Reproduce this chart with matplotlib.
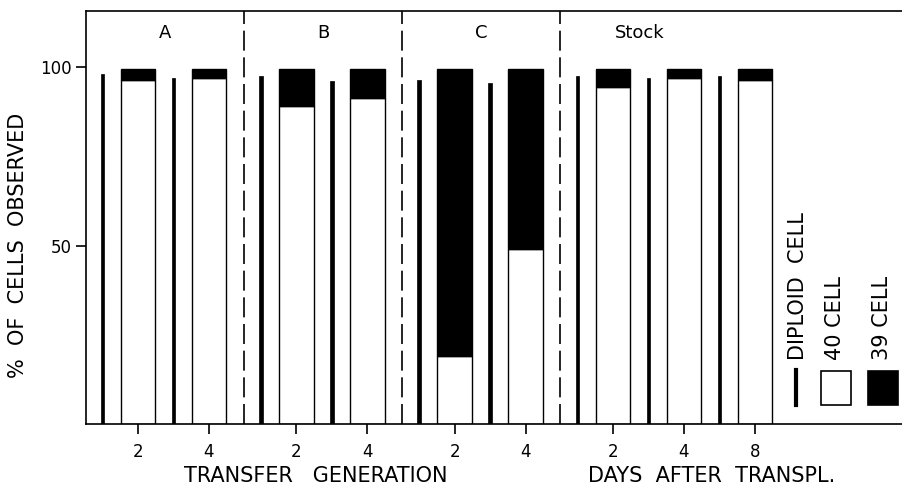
import matplotlib
matplotlib.use("Agg")
import matplotlib.pyplot as plt
from matplotlib.patches import Rectangle
from matplotlib.lines import Line2D

# ---- data ----
groups = ["A", "B", "C", "Stock"]
group_sizes = [2, 2, 2, 3]
tick_labels = ["2", "4", "2", "4", "2", "4", "2", "4", "8"]
diploid = [98.0, 97.0, 97.5, 96.0, 96.5, 95.5, 97.5, 97.0, 97.5]
cell40 = [96.5, 97.0, 89.0, 91.5, 19.0, 49.0, 94.5, 97.0, 96.5]
cell39 = [3.0, 2.5, 10.5, 8.0, 80.5, 50.5, 5.0, 2.5, 3.0]
xlabel_left = "TRANSFER   GENERATION"
xlabel_right = "DAYS  AFTER  TRANSPL."
ylabel = "%  OF  CELLS  OBSERVED"

plt.rcParams['font.family'] = ['DejaVu Sans']

W, H = 903, 491
fig = plt.figure(figsize=(W / 100, H / 100), dpi=100)
ax = fig.add_axes([86 / W, (H - 424) / H, (W - 86) / W, (424 - 11) / H])

# layout positions
gap = 0.23
positions = []
first_pos = []
sep = []
start = 0.0
for gi, n in enumerate(group_sizes):
    first_pos.append(start)
    for k in range(n):
        positions.append(start + k)
    last = start + n - 1
    start = last + 1 + gap
bar_w = 0.49
dip_off = -0.5
dip_w = 0.055

# separators between groups
idx = 0
for gi, n in enumerate(group_sizes[:-1]):
    idx += n
    right_edge = positions[idx - 1] + bar_w / 2
    next_dip = positions[idx] + dip_off
    sep.append((right_edge + next_dip) / 2)

# bars
dx = [p + dip_off for p in positions]
ax.bar(dx, diploid, width=dip_w, color="black", edgecolor="black", linewidth=0.5)
ax.bar(positions, cell40, width=bar_w, color="white", edgecolor="black", linewidth=1.0)
ax.bar(positions, cell39, width=bar_w, bottom=cell40, color="black",
       edgecolor="black", linewidth=1.0)

for s in sep:
    ax.axvline(s, color="black", lw=1.2, dashes=(12, 4))

for g, fp in zip(groups, first_pos):
    ax.text(fp + 0.38, 109.6, g, ha="center", va="center", fontsize=13)

ax.set_xlim((86 - 138) / 71, (903 - 138) / 71)
ax.set_ylim(0, (424 - 11) / 3.568)

ax.set_xticks(positions)
ax.set_xticklabels(tick_labels, fontsize=12)
ax.set_yticks([50, 100])
ax.set_yticklabels(["50", "100"], fontsize=12)
ax.tick_params(axis="both", direction="out", length=7, width=1.2)
ax.tick_params(axis="x", pad=7)
ax.tick_params(axis="y", pad=3)

for side in ["top", "left", "bottom"]:
    ax.spines[side].set_linewidth(1.2)
ax.spines["right"].set_visible(False)

# axis labels
fig.text(316 / W, 1 - 476 / H, xlabel_left, ha="center", va="center", fontsize=15)
fig.text(712 / W, 1 - 476 / H, xlabel_right, ha="center", va="center", fontsize=15)
fig.text(18 / W, 1 - 245 / H, ylabel, ha="center", va="center", rotation=90, fontsize=15)

# legend (rotated)
ft = fig.transFigure
fig.add_artist(Line2D([796 / W, 796 / W], [1 - 405 / H, 1 - 370 / H], color="black",
                      lw=3, transform=ft))
fig.add_artist(Rectangle((821 / W, 1 - 405 / H), 30 / W, 34 / H, facecolor="white",
                         edgecolor="black", lw=1.2, transform=ft))
fig.add_artist(Rectangle((868 / W, 1 - 405 / H), 30 / W, 34 / H, facecolor="black",
                         edgecolor="black", lw=1.2, transform=ft))
fig.text(798 / W, 1 - 360 / H, "DIPLOID  CELL", rotation=90, ha="center", va="bottom",
         fontsize=15)
fig.text(835 / W, 1 - 360 / H, "40 CELL", rotation=90, ha="center", va="bottom",
         fontsize=15)
fig.text(882 / W, 1 - 360 / H, "39 CELL", rotation=90, ha="center", va="bottom",
         fontsize=15)

fig.savefig("out.png", dpi=100)
